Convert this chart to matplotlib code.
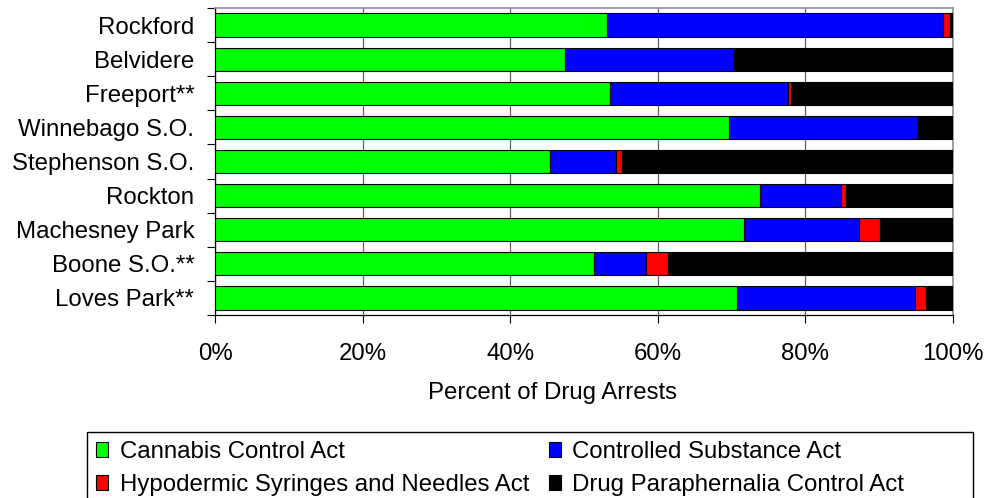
import numpy as np
import matplotlib
matplotlib.use("Agg")
import matplotlib.pyplot as plt
from matplotlib.patches import Patch, Rectangle

plt.rcParams["font.family"] = ["Liberation Sans", "DejaVu Sans"]

# Share of drug arrests by statute, per agency (percent)
agencies = ["Rockford", "Belvidere", "Freeport**", "Winnebago S.O.",
            "Stephenson S.O.", "Rockton", "Machesney Park", "Boone S.O.**",
            "Loves Park**"]
cannabis = [53.1, 47.4, 53.5, 69.6, 45.4, 73.9, 71.7, 51.4, 70.7]
controlled = [45.5, 22.9, 24.2, 25.6, 9.0, 10.9, 15.5, 7.0, 24.1]
syringes = [1.0, 0.0, 0.4, 0.0, 0.7, 0.7, 2.9, 3.0, 1.5]
paraphernalia = [0.4, 29.7, 21.9, 4.8, 44.9, 14.5, 9.9, 38.6, 3.7]

series = [
    ("Cannabis Control Act", cannabis, "#00ff00"),
    ("Controlled Substance Act", controlled, "#0000ff"),
    ("Hypodermic Syringes and Needles Act", syringes, "#ff0000"),
    ("Drug Paraphernalia Control Act", paraphernalia, "#000000"),
]

FS = 17.3

fig = plt.figure(figsize=(9.88, 4.98), dpi=100)
ax = fig.add_axes([215 / 988, 1 - 315 / 498, (953 - 215) / 988, (315 - 8) / 498])

y = np.arange(len(agencies))
left = np.zeros(len(agencies))
for name, vals, color in series:
    vals = np.array(vals)
    ax.barh(y, vals, left=left, height=0.68, color=color,
            edgecolor="black", linewidth=0.8, zorder=3)
    left += vals

ax.set_xlim(0, 100)
ax.set_ylim(len(agencies) - 0.5, -0.5)

# x axis
ax.set_xticks(np.arange(0, 101, 20))
ax.set_xticklabels([f"{v}%" for v in range(0, 101, 20)], fontsize=FS)
ax.tick_params(axis="x", direction="out", length=5.8, width=0.8, pad=14,
               color="black")
ax.xaxis.grid(True, color="#606060", linewidth=0.9, zorder=0)
ax.set_axisbelow(True)
ax.set_xlabel("Percent of Drug Arrests", fontsize=FS, va="top")
ax.xaxis.set_label_coords(0.457, -0.218)

# y axis: labels centred on bars, ticks on the category boundaries
ax.set_yticks(y)
ax.set_yticklabels(agencies, fontsize=FS)
ax.set_yticks(np.arange(-0.5, len(agencies), 1), minor=True)
ax.tick_params(axis="y", which="major", length=0, pad=15)
ax.tick_params(axis="y", which="minor", direction="out", length=5.8,
               width=0.8, color="black")

for side in ("top", "right"):
    ax.spines[side].set_color("#909090")
    ax.spines[side].set_linewidth(1.2)
for side in ("left", "bottom"):
    ax.spines[side].set_color("black")
    ax.spines[side].set_linewidth(0.9)

# legend box runs off the bottom of the figure
fig.patches.append(Rectangle((87 / 988, -0.05), (973 - 87) / 988,
                             (1 - 432 / 498) + 0.05,
                             transform=fig.transFigure, fill=False,
                             edgecolor="black", linewidth=1.0))

handles = [Patch(facecolor=c, edgecolor="black", linewidth=0.8)
           for _, _, c in series]
labels = [n for n, _, _ in series]
# legend fills column by column, so order the entries to read across rows
order = [0, 2, 1, 3]
fig.legend([handles[i] for i in order], [labels[i] for i in order],
           loc="upper left", bbox_to_anchor=(96 / 988, 1 - 441 / 498),
           ncol=2, frameon=False, fontsize=FS, borderpad=0,
           borderaxespad=0, handlelength=0.5, handleheight=0.55,
           handletextpad=0.48, labelspacing=0.46, columnspacing=0.83)

fig.savefig("out.png", dpi=100)
